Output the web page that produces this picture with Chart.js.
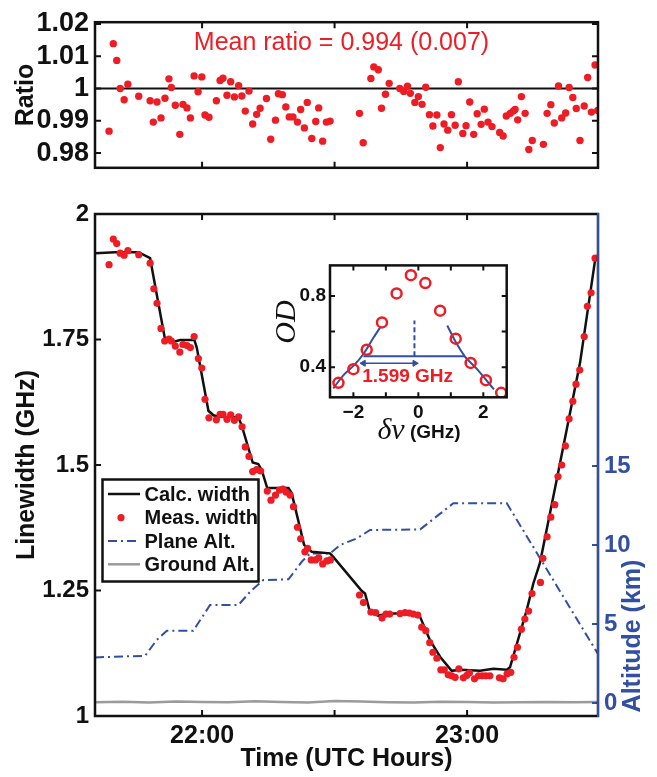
<!DOCTYPE html>
<html>
<head>
<meta charset="utf-8">
<script src="https://cdn.jsdelivr.net/npm/chart.js@4.4.1/dist/chart.umd.min.js"></script>
<style>
  html, body { margin: 0; padding: 0; background: #fff; }
  #wrap { position: relative; width: 657px; height: 777px; overflow: hidden; }
  canvas { position: absolute; }
</style>
</head>
<body>
<div id="wrap">
  <canvas id="ratioChart" width="657" height="190" style="left:0;top:0"></canvas>
  <canvas id="mainChart" width="657" height="585" style="left:0;top:192px"></canvas>
  <canvas id="insetChart" width="262" height="200" style="left:260px;top:250px"></canvas>
</div>
<script>
// ---- data (time in decimal UTC hours) ----
const timeMin = 21.596;
const timeMax = 23.494;
const timeTicks = [22, 22.5, 23];
const timeTickLabels = ['22:00', '', '23:00'];

const ratioTimes = [21.649,21.665,21.678,21.691,21.706,21.720,21.761,21.804,21.816,21.830,
  21.845,21.860,21.875,21.884,21.899,21.916,21.928,21.943,21.956,21.970,
  21.985,21.999,22.011,22.026,22.054,22.068,22.079,22.094,22.108,22.122,
  22.138,22.150,22.163,22.177,22.191,22.206,22.219,22.243,22.259,22.277,
  22.288,22.303,22.316,22.329,22.343,22.360,22.372,22.386,22.397,22.414,
  22.429,22.440,22.455,22.469,22.483,22.594,22.608,22.637,22.648,22.665,
  22.677,22.692,22.706,22.746,22.761,22.775,22.786,22.803,22.816,22.830,
  22.844,22.858,22.871,22.886,22.899,22.913,22.927,22.941,22.955,22.967,
  22.984,22.996,23.010,23.025,23.038,23.053,23.065,23.079,23.094,23.123,
  23.136,23.148,23.163,23.174,23.181,23.191,23.205,23.219,23.233,23.246,
  23.288,23.302,23.316,23.329,23.345,23.357,23.372,23.385,23.399,23.412,
  23.426,23.442,23.455,23.469,23.483,23.493];
const ratioValues = [0.9868,1.0139,1.0087,1.0000,0.9965,1.0013,0.9976,0.9962,0.9896,0.9958,
  0.9909,0.9970,1.0030,1.0003,0.9948,0.9858,0.9951,0.9940,0.9909,1.0039,
  0.9990,1.0036,0.9918,0.9911,0.9962,1.0025,1.0032,0.9979,1.0021,0.9974,
  1.0009,0.9977,0.9930,0.9992,0.9890,0.9920,0.9939,0.9969,0.9843,0.9902,
  0.9984,0.9981,0.9943,0.9912,0.9912,0.9896,0.9935,0.9878,0.9957,0.9845,
  0.9898,0.9940,0.9837,0.9896,0.9899,0.9923,0.9832,1.0031,1.0067,1.0058,
  0.9939,0.9982,1.0016,1.0000,0.9991,1.0007,0.9985,0.9957,0.9975,0.9951,
  1.0004,0.9919,0.9884,0.9918,0.9817,0.9890,0.9871,0.9919,0.9886,1.0021,
  0.9861,0.9885,0.9958,0.9858,0.9922,0.9889,0.9936,0.9896,0.9882,0.9864,
  0.9853,0.9915,0.9923,0.9930,0.9935,0.9903,0.9975,0.9923,0.9811,0.9839,
  0.9827,0.9923,0.9950,0.9893,1.0008,0.9909,0.9924,1.0003,0.9972,0.9938,
  0.9839,0.9946,1.0034,0.9927,1.0073,0.9932];
const ratioTicks = [0.98, 0.99, 1, 1.01, 1.02];
const ratioTickLabels = ['0.98', '0.99', '1', '1.01', '1.02'];
const meanNote = 'Mean ratio = 0.994 (0.007)';

const measTimes = [21.649,21.665,21.678,21.691,21.706,21.720,21.761,21.804,21.818,21.830,
  21.845,21.859,21.875,21.884,21.899,21.916,21.928,21.943,21.956,21.970,
  21.986,21.999,22.011,22.026,22.054,22.068,22.079,22.094,22.108,22.122,
  22.138,22.151,22.163,22.177,22.191,22.206,22.221,22.246,22.260,22.277,
  22.292,22.305,22.317,22.332,22.345,22.360,22.372,22.388,22.398,22.412,
  22.428,22.440,22.455,22.471,22.484,22.594,22.609,22.637,22.655,22.679,
  22.694,22.708,22.747,22.766,22.782,22.797,22.814,22.829,22.844,22.859,
  22.871,22.886,22.901,22.914,22.929,22.942,22.955,22.969,22.986,22.999,
  23.009,23.028,23.043,23.057,23.071,23.086,23.122,23.136,23.151,23.165,
  23.177,23.190,23.205,23.218,23.232,23.245,23.277,23.286,23.302,23.316,
  23.331,23.343,23.357,23.371,23.385,23.399,23.411,23.425,23.442,23.454,
  23.468,23.483];
const measWidths = [1.899,1.950,1.941,1.922,1.918,1.927,1.919,1.902,1.851,1.822,
  1.772,1.747,1.751,1.747,1.737,1.725,1.740,1.738,1.734,1.756,
  1.712,1.693,1.631,1.594,1.590,1.601,1.601,1.591,1.600,1.589,
  1.596,1.576,1.536,1.517,1.487,1.491,1.488,1.448,1.430,1.440,
  1.450,1.452,1.446,1.440,1.417,1.376,1.353,1.327,1.334,1.311,
  1.311,1.315,1.303,1.309,1.311,1.241,1.226,1.207,1.206,1.195,
  1.203,1.203,1.204,1.206,1.205,1.203,1.201,1.177,1.170,1.146,
  1.127,1.115,1.092,1.092,1.082,1.080,1.077,1.094,1.076,1.081,
  1.086,1.074,1.080,1.080,1.080,1.080,1.076,1.074,1.084,1.087,
  1.117,1.137,1.173,1.193,1.209,1.244,1.266,1.314,1.357,1.396,
  1.421,1.477,1.500,1.538,1.592,1.627,1.661,1.689,1.756,1.816,
  1.843,1.912];

const calcTimes = [21.596,21.672,21.760,21.804,21.816,21.860,21.898,21.917,21.971,21.980,
  22.024,22.043,22.062,22.137,22.150,22.191,22.212,22.225,22.246,22.326,
  22.338,22.385,22.414,22.483,22.495,22.603,22.615,22.634,22.665,22.709,
  22.810,22.823,22.860,22.898,22.942,22.974,23.049,23.099,23.150,23.162,
  23.225,23.250,23.275,23.338,23.426,23.483];
const calcWidths = [1.922,1.924,1.924,1.912,1.877,1.751,1.746,1.749,1.749,1.734,
  1.608,1.599,1.596,1.595,1.578,1.505,1.502,1.490,1.454,1.454,
  1.444,1.341,1.327,1.324,1.317,1.249,1.244,1.206,1.200,1.204,
  1.204,1.197,1.151,1.118,1.090,1.092,1.090,1.094,1.092,1.097,
  1.211,1.264,1.305,1.470,1.703,1.908];

const planeTimes = [21.596,21.785,21.829,21.867,21.967,22.030,22.137,22.181,22.231,22.326,
  22.376,22.408,22.483,22.521,22.584,22.634,22.823,22.948,23.150,23.494];
const planeAlt = [2.89,2.99,3.99,4.58,4.58,6.20,6.20,7.04,7.78,7.83,
  8.94,9.47,9.47,10.00,10.42,10.95,10.99,12.64,12.64,3.10];

const groundTimes = [21.596,21.70,21.80,21.90,22.00,22.10,22.20,22.30,22.40,22.50,
  22.60,22.70,22.80,22.90,23.00,23.10,23.20,23.30,23.40,23.494];
const groundAlt = [0.05,0.08,0.04,0.10,0.06,0.05,0.11,0.07,0.04,0.13,
  0.09,0.05,0.03,0.08,0.06,0.04,0.05,0.07,0.05,0.06];

const widthTicks = [1, 1.25, 1.5, 1.75, 2];
const widthTickLabels = ['1', '1.25', '1.5', '1.75', '2'];
const altTicks = [0, 5, 10, 15];
const altTickLabels = ['0', '5', '10', '15'];

// inset: optical depth vs detuning
const odDetuning = [-2.46,-2.00,-1.59,-1.12,-0.67,-0.23,0.215,0.67,1.15,1.61,2.08,2.55];
const odValues = [0.312,0.389,0.498,0.651,0.814,0.916,0.872,0.717,0.560,0.424,0.327,0.256];
const leftFitX = [-2.62,-2.31,-2.00,-1.69,-1.38,-1.16];
const leftFitY = [0.281,0.354,0.407,0.474,0.566,0.627];
const rightFitX = [0.89,1.13,1.43,1.80,2.33];
const rightFitY = [0.634,0.548,0.461,0.390,0.275];
const halfLevelX = [-1.69, 1.43];
const halfLevelY = [0.461, 0.461];
const centerX = [-0.12, -0.12];
const centerY = [0.461, 0.662];
const arrowX = [-1.69, -0.11];
const arrowY = [0.422, 0.422];
const insetNote = '1.599 GHz';
const detTicks = [-2, -1, 0, 1, 2];
const detTickLabels = ['\u22122', '', '0', '', '2'];
const odTicks = [0.4, 0.6, 0.8];
const odTickLabels = ['0.4', '', '0.8'];

const RED = '#ee1c24';
const BLUE = '#3150a3';
const GRAY = '#9b9b9b';
const SANS = '"Liberation Sans", Arial, Helvetica, sans-serif';
const SERIF = '"Liberation Serif", "DejaVu Serif", serif';

Chart.defaults.font.family = SANS;
Chart.defaults.color = '#111';

const pts = (xs, ys) => xs.map((x, i) => ({ x: x, y: ys[i] }));
const fixTicks = vals => s => { s.ticks = vals.map(v => ({ value: v })); };
const labelFrom = (vals, labels) => v => {
  const i = vals.findIndex(t => Math.abs(t - v) < 1e-9);
  return i < 0 ? '' : labels[i];
};

function inwardTicks(ctx, chart, id, sides, len) {
  const s = chart.scales[id], a = chart.chartArea;
  ctx.beginPath();
  s.ticks.forEach(t => {
    const p = s.getPixelForValue(t.value);
    sides.forEach(side => {
      if (side === 'bottom') { ctx.moveTo(p, a.bottom); ctx.lineTo(p, a.bottom - len); }
      if (side === 'top') { ctx.moveTo(p, a.top); ctx.lineTo(p, a.top + len); }
      if (side === 'left') { ctx.moveTo(a.left, p); ctx.lineTo(a.left + len, p); }
      if (side === 'right') { ctx.moveTo(a.right, p); ctx.lineTo(a.right - len, p); }
    });
  });
  ctx.stroke();
}

const framePlugin = {
  id: 'frame',
  beforeDraw(chart, args, o) {
    if (!o.fill) return;
    const a = chart.chartArea, ctx = chart.ctx;
    ctx.save();
    ctx.fillStyle = '#fff';
    ctx.fillRect(a.left, a.top, a.right - a.left, a.bottom - a.top);
    ctx.restore();
  },
  afterDraw(chart, args, o) {
    const a = chart.chartArea, ctx = chart.ctx;
    ctx.save();
    ctx.lineCap = 'butt';
    ctx.strokeStyle = '#111';
    ctx.lineWidth = o.tickWidth || 2;
    inwardTicks(ctx, chart, 'x', ['bottom', 'top'], o.tickLen);
    inwardTicks(ctx, chart, 'y', o.ySides, o.tickLen);
    if (o.rightAxis) {
      ctx.strokeStyle = BLUE;
      inwardTicks(ctx, chart, 'y2', ['right'], o.tickLen);
    }
    ctx.strokeStyle = '#111';
    ctx.lineWidth = o.frameWidth || 2.5;
    ctx.strokeRect(a.left, a.top, a.right - a.left, a.bottom - a.top);
    if (o.rightAxis) {
      ctx.strokeStyle = BLUE;
      ctx.lineWidth = 2;
      ctx.beginPath();
      ctx.moveTo(a.right, a.top - 1);
      ctx.lineTo(a.right, a.bottom + 1);
      ctx.stroke();
    }
    if (o.extra) o.extra(chart, ctx, a);
    ctx.restore();
  }
};

// ---- top panel: ratio ----
new Chart(document.getElementById('ratioChart'), {
  type: 'scatter',
  data: {
    datasets: [
      { label: 'Ratio', data: pts(ratioTimes, ratioValues), pointRadius: 3.7,
        backgroundColor: RED, borderWidth: 0, order: 1 },
      { label: 'Unity', data: pts([timeMin, timeMax], [1, 1]), showLine: true,
        borderColor: '#111', borderWidth: 2, pointRadius: 0, order: 2 }
    ]
  },
  options: {
    responsive: false, animation: false, devicePixelRatio: 1,
    layout: { padding: { top: 15, right: 59, left: 0, bottom: 0 } },
    plugins: {
      legend: { display: false }, tooltip: { enabled: false },
      frame: {
        tickLen: 6, ySides: ['left', 'right'],
        extra(chart, ctx, a) {
          ctx.fillStyle = RED;
          ctx.font = '25px ' + SANS;
          ctx.textAlign = 'center';
          ctx.textBaseline = 'middle';
          ctx.fillText(meanNote, a.left + 0.49 * (a.right - a.left), 43);
        }
      }
    },
    scales: {
      x: {
        type: 'linear', min: timeMin, max: timeMax,
        grid: { display: false, drawTicks: false }, border: { display: false },
        ticks: { display: false },
        afterBuildTicks: fixTicks(timeTicks),
        afterFit: s => { s.height = 7; }
      },
      y: {
        min: 0.97544, max: 1.02054,
        grid: { display: false, drawTicks: false }, border: { display: false },
        ticks: { padding: 6, font: { size: 27, weight: 'bold' }, color: '#111',
          callback: labelFrom(ratioTicks, ratioTickLabels) },
        afterBuildTicks: fixTicks(ratioTicks),
        afterFit: s => { s.width = 95; },
        title: { display: true, text: 'Ratio', color: '#111',
          font: { size: 25, weight: 'bold' }, padding: { top: 11, bottom: 0 } }
      }
    }
  },
  plugins: [framePlugin]
});

// ---- main panel: linewidth and altitude ----
function drawMainExtras(chart, ctx, a) {
  // right axis title
  ctx.save();
  ctx.translate(633, 444);
  ctx.rotate(-Math.PI / 2);
  ctx.fillStyle = BLUE;
  ctx.font = 'bold 25px ' + SANS;
  ctx.textAlign = 'center';
  ctx.textBaseline = 'middle';
  ctx.fillText('Altitude (km)', 0, 0);
  ctx.restore();

  // legend box
  const box = { x: 102.5, y: 287.5, w: 156, h: 102 };
  ctx.fillStyle = '#fff';
  ctx.fillRect(box.x, box.y, box.w, box.h);
  ctx.strokeStyle = '#111';
  ctx.lineWidth = 2.5;
  ctx.strokeRect(box.x, box.y, box.w, box.h);
  const rows = [302, 325.7, 349, 372.3];
  const ds = chart.data.datasets;
  ctx.font = 'bold 20px ' + SANS;
  ctx.textAlign = 'left';
  ctx.textBaseline = 'middle';
  ds.forEach((d, i) => {
    const y = rows[i];
    if (d.showLine) {
      ctx.save();
      ctx.strokeStyle = d.borderColor;
      ctx.lineWidth = d.borderWidth;
      ctx.setLineDash(d.borderDash || []);
      ctx.beginPath();
      ctx.moveTo(108, y);
      ctx.lineTo(140, y);
      ctx.stroke();
      ctx.restore();
    } else {
      ctx.fillStyle = d.backgroundColor;
      ctx.beginPath();
      ctx.arc(121, y, 3.6, 0, Math.PI * 2);
      ctx.fill();
    }
    ctx.fillStyle = '#111';
    ctx.fillText(d.label, 144.5, y + 1);
  });
}

new Chart(document.getElementById('mainChart'), {
  type: 'scatter',
  data: {
    datasets: [
      { label: 'Calc. width', data: pts(calcTimes, calcWidths), showLine: true,
        borderColor: '#111', borderWidth: 2.5, pointRadius: 0, yAxisID: 'y', order: 2 },
      { label: 'Meas. width', data: pts(measTimes, measWidths), pointRadius: 3.6,
        backgroundColor: RED, borderWidth: 0, yAxisID: 'y', order: 1 },
      { label: 'Plane Alt.', data: pts(planeTimes, planeAlt), showLine: true,
        borderColor: BLUE, borderWidth: 2, borderDash: [9, 4, 2, 4], pointRadius: 0,
        yAxisID: 'y2', order: 3 },
      { label: 'Ground Alt.', data: pts(groundTimes, groundAlt), showLine: true,
        borderColor: GRAY, borderWidth: 2.5, pointRadius: 0, yAxisID: 'y2', order: 4 }
    ]
  },
  options: {
    responsive: false, animation: false, devicePixelRatio: 1,
    layout: { padding: { top: 22, right: 0, left: 0, bottom: 0 } },
    plugins: {
      legend: { display: false }, tooltip: { enabled: false },
      frame: { tickLen: 6, ySides: ['left'], rightAxis: true, extra: drawMainExtras }
    },
    scales: {
      x: {
        type: 'linear', min: timeMin, max: timeMax,
        grid: { display: false, drawTicks: false }, border: { display: false },
        ticks: { padding: 5, autoSkip: false, maxRotation: 0, font: { size: 25, weight: 'bold' },
          color: '#111', callback: labelFrom(timeTicks, timeTickLabels) },
        afterBuildTicks: fixTicks(timeTicks),
        afterFit: s => { s.height = 61; },
        title: { display: true, text: 'Time (UTC Hours)', color: '#111',
          font: { size: 25, weight: 'bold' }, padding: { top: 0, bottom: 3 } }
      },
      y: {
        position: 'left', min: 1, max: 2,
        grid: { display: false, drawTicks: false }, border: { display: false },
        ticks: { padding: 6, font: { size: 24, weight: 'bold' }, color: '#111',
          callback: labelFrom(widthTicks, widthTickLabels) },
        afterBuildTicks: fixTicks(widthTicks),
        afterFit: s => { s.width = 95; },
        title: { display: true, text: 'Linewidth (GHz)', color: '#111',
          font: { size: 25, weight: 'bold' }, padding: { top: 12, bottom: 0 } }
      },
      y2: {
        position: 'right', min: -0.82, max: 30.95,
        grid: { display: false, drawTicks: false }, border: { display: false },
        ticks: { padding: 6, font: { size: 24, weight: 'bold' }, color: BLUE,
          callback: labelFrom(altTicks, altTickLabels) },
        afterBuildTicks: fixTicks(altTicks),
        afterFit: s => { s.width = 59; }
      }
    }
  },
  plugins: [framePlugin]
});

// ---- inset: OD spectrum ----
function drawInsetExtras(chart, ctx, a) {
  const xs = chart.scales.x, ys = chart.scales.y;
  ctx.fillStyle = RED;
  ctx.font = 'bold 19px ' + SANS;
  ctx.textAlign = 'center';
  ctx.textBaseline = 'middle';
  ctx.fillText(insetNote, xs.getPixelForValue(-0.33), ys.getPixelForValue(0.345));

  // y axis title
  ctx.save();
  ctx.translate(27, 72);
  ctx.rotate(-Math.PI / 2);
  ctx.fillStyle = '#111';
  ctx.font = 'italic 30px ' + SERIF;
  ctx.fillText('OD', 0, 0);
  ctx.restore();

  // x axis title: italic delta-nu plus (GHz)
  ctx.fillStyle = '#111';
  ctx.textAlign = 'left';
  ctx.font = 'italic 30px ' + SERIF;
  const dn = '\u03b4\u03bd';
  const w1 = ctx.measureText(dn).width;
  ctx.font = 'bold 19px ' + SANS;
  const w2 = ctx.measureText(' (GHz)').width;
  const x0 = 159 - (w1 + w2) / 2;
  ctx.font = 'italic 30px ' + SERIF;
  ctx.fillText(dn, x0, 181);
  ctx.font = 'bold 19px ' + SANS;
  ctx.fillText(' (GHz)', x0 + w1, 183);
}

new Chart(document.getElementById('insetChart'), {
  type: 'scatter',
  data: {
    datasets: [
      { label: 'OD', data: pts(odDetuning, odValues), pointRadius: 5,
        pointBorderWidth: 2.5, borderColor: RED, backgroundColor: 'rgba(0,0,0,0)', order: 1 },
      { label: 'Left fit', data: pts(leftFitX, leftFitY), showLine: true, tension: 0.3,
        borderColor: BLUE, borderWidth: 2, pointRadius: 0, order: 2 },
      { label: 'Right fit', data: pts(rightFitX, rightFitY), showLine: true, tension: 0.3,
        borderColor: BLUE, borderWidth: 2, pointRadius: 0, order: 2 },
      { label: 'Half level', data: pts(halfLevelX, halfLevelY), showLine: true,
        borderColor: BLUE, borderWidth: 2, pointRadius: 0, order: 2 },
      { label: 'Center', data: pts(centerX, centerY), showLine: true, borderDash: [5, 3],
        borderColor: BLUE, borderWidth: 2, pointRadius: 0, order: 2 },
      { label: 'Half width', data: pts(arrowX, arrowY), showLine: true,
        borderColor: BLUE, borderWidth: 1.5, pointStyle: 'triangle', pointRadius: 3.5,
        pointRotation: [-90, 90], backgroundColor: BLUE, pointBorderWidth: 1, order: 2 }
    ]
  },
  options: {
    responsive: false, animation: false, devicePixelRatio: 1,
    layout: { padding: { top: 13.3, right: 15.3, left: 0, bottom: 0 } },
    plugins: {
      legend: { display: false }, tooltip: { enabled: false },
      frame: { fill: true, tickLen: 5, ySides: ['left', 'right'], extra: drawInsetExtras }
    },
    scales: {
      x: {
        type: 'linear', min: -2.72, max: 2.72,
        grid: { display: false, drawTicks: false }, border: { display: false },
        ticks: { padding: 4, autoSkip: false, maxRotation: 0, font: { size: 19, weight: 'bold' },
          color: '#111', callback: labelFrom(detTicks, detTickLabels) },
        afterBuildTicks: fixTicks(detTicks),
        afterFit: s => { s.height = 52.7; }
      },
      y: {
        min: 0.231, max: 0.971,
        grid: { display: false, drawTicks: false }, border: { display: false },
        ticks: { padding: 4, font: { size: 19, weight: 'bold' }, color: '#111',
          callback: labelFrom(odTicks, odTickLabels) },
        afterBuildTicks: fixTicks(odTicks),
        afterFit: s => { s.width = 70; }
      }
    }
  },
  plugins: [framePlugin]
});
</script>
</body>
</html>
